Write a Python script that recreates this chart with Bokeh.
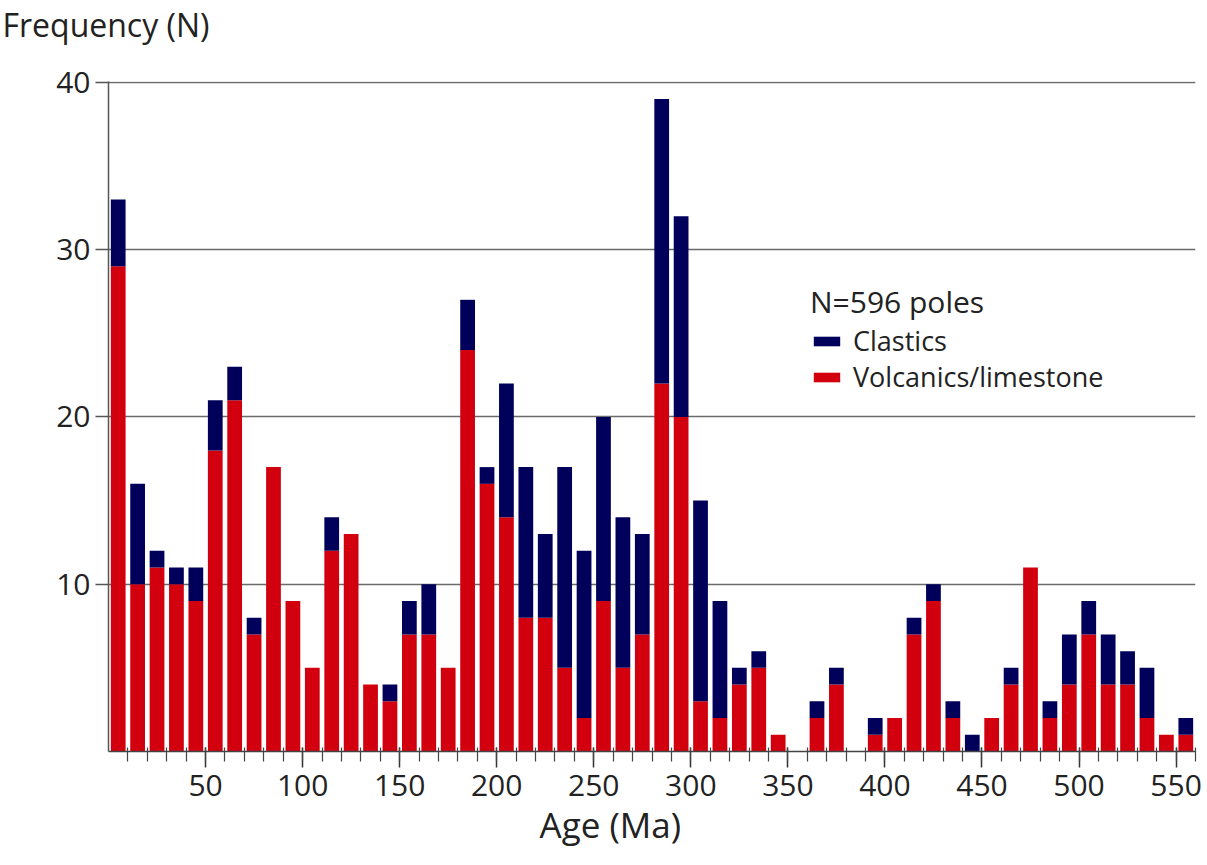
from bokeh.plotting import figure
from bokeh.models import FixedTicker, Legend, LegendItem, Range1d, ColumnDataSource, Title
from bokeh.embed import file_html
from bokeh.resources import INLINE

# 10 Myr age bins (bin centres, Ma)
age_bins = [5, 15, 25, 35, 45, 55, 65, 75, 85, 95,
            105, 115, 125, 135, 145, 155, 165, 175, 185, 195,
            205, 215, 225, 235, 245, 255, 265, 275, 285, 295,
            305, 315, 325, 335, 345, 355, 365, 375, 385, 395,
            405, 415, 425, 435, 445, 455, 465, 475, 485, 495,
            505, 515, 525, 535, 545, 555]

# number of poles per bin, by rock type
volcanics = [29, 10, 11, 10, 9, 18, 21, 7, 17, 9,
             5, 12, 13, 4, 3, 7, 7, 5, 24, 16,
             14, 8, 8, 5, 2, 9, 5, 7, 22, 20,
             3, 2, 4, 5, 1, 0, 2, 4, 0, 1,
             2, 7, 9, 2, 0, 2, 4, 11, 2, 4,
             7, 4, 4, 2, 1, 1]
clastics = [4, 6, 1, 1, 2, 3, 2, 1, 0, 0,
            0, 2, 0, 0, 1, 2, 3, 0, 3, 1,
            8, 9, 5, 12, 10, 11, 9, 6, 17, 12,
            12, 7, 1, 1, 0, 0, 1, 1, 0, 1,
            0, 1, 1, 1, 1, 0, 1, 0, 1, 3,
            2, 3, 2, 3, 0, 1]

x_major = [50, 100, 150, 200, 250, 300, 350, 400, 450, 500, 550]
x_minor = list(range(10, 561, 10))
y_ticks = [10, 20, 30, 40]

RED = "#D2000E"
NAVY = "#00005A"
INK = "#222222"
FONT = "Open Sans"

total_poles = sum(volcanics) + sum(clastics)

source = ColumnDataSource(dict(age=age_bins, volcanics=volcanics, clastics=clastics))

p = figure(width=1207, height=865, output_backend="svg", toolbar_location=None,
           x_range=Range1d(0, 560), y_range=Range1d(0, 40.05),
           min_border_left=108, min_border_right=12, min_border_top=81,
           min_border_bottom=114)
p.outline_line_color = None
p.background_fill_color = "white"
p.border_fill_color = "white"

r_volc, r_clas = p.vbar_stack(["volcanics", "clastics"], x="age", width=7.6,
                              color=[RED, NAVY], line_color=None, source=source)

# y axis
p.yaxis.ticker = FixedTicker(ticks=y_ticks)
p.yaxis.major_tick_in = 0
p.yaxis.major_tick_out = 13
p.yaxis.minor_tick_line_color = None
p.yaxis.axis_line_color = "#555555"
p.yaxis.axis_line_width = 1.5
p.yaxis.major_tick_line_color = "#555555"
p.yaxis.major_tick_line_width = 1.5
p.yaxis.major_label_text_font = FONT
p.yaxis.major_label_text_font_size = "30px"
p.yaxis.major_label_text_color = INK
p.yaxis.major_label_standoff = 5

# x axis
p.xaxis.ticker = FixedTicker(ticks=x_major, minor_ticks=x_minor)
p.xaxis.major_tick_in = 4
p.xaxis.major_tick_out = 16
p.xaxis.minor_tick_in = 4
p.xaxis.minor_tick_out = 10
p.xaxis.axis_line_color = "#444444"
p.xaxis.axis_line_width = 1.5
p.xaxis.major_tick_line_color = "#333333"
p.xaxis.major_tick_line_width = 1.5
p.xaxis.minor_tick_line_color = "#444444"
p.xaxis.minor_tick_line_width = 1.2
p.xaxis.major_label_text_font = FONT
p.xaxis.major_label_text_font_size = "30px"
p.xaxis.major_label_text_color = INK
p.xaxis.major_label_standoff = 7

# grid
p.xgrid.visible = False
p.ygrid.grid_line_color = "#6a6a6a"
p.ygrid.grid_line_width = 1.5

# axis titles; a blank spacer title keeps the y title clear of the top tick label
p.add_layout(Title(text=" ", standoff=0, text_font=FONT, text_font_size="25px"), "above")
p.add_layout(Title(text="Frequency (N)", align="left", offset=-106, standoff=0,
                   text_font=FONT, text_font_size="32px", text_font_style="normal",
                   text_color=INK), "above")
p.add_layout(Title(text="Age (Ma)", align="left", offset=431, standoff=0,
                   text_font=FONT, text_font_size="35px", text_font_style="normal",
                   text_color=INK), "below")


def style_legend(lg):
    lg.title_text_font = FONT
    lg.title_text_font_size = "30px"
    lg.title_text_font_style = "normal"
    lg.title_text_color = INK
    lg.title_standoff = 0
    lg.label_text_font = FONT
    lg.label_text_font_size = "27px"
    lg.label_text_color = INK
    lg.glyph_width = 33
    lg.glyph_height = 12
    lg.label_height = 20
    lg.label_standoff = 10
    lg.padding = 0
    lg.margin = 0
    lg.border_line_color = None
    lg.background_fill_alpha = 0


# legend rows placed individually for a tighter line pitch
legend_top = Legend(items=[LegendItem(label="Clastics", renderers=[r_clas])],
                    title=f"N={total_poles} poles", location=(702, 392))
legend_bottom = Legend(items=[LegendItem(label="Volcanics/limestone", renderers=[r_volc])],
                       location=(702, 356))
style_legend(legend_top)
style_legend(legend_bottom)
p.add_layout(legend_top)
p.add_layout(legend_bottom)

open("out.html", "w").write(file_html(p, INLINE))
